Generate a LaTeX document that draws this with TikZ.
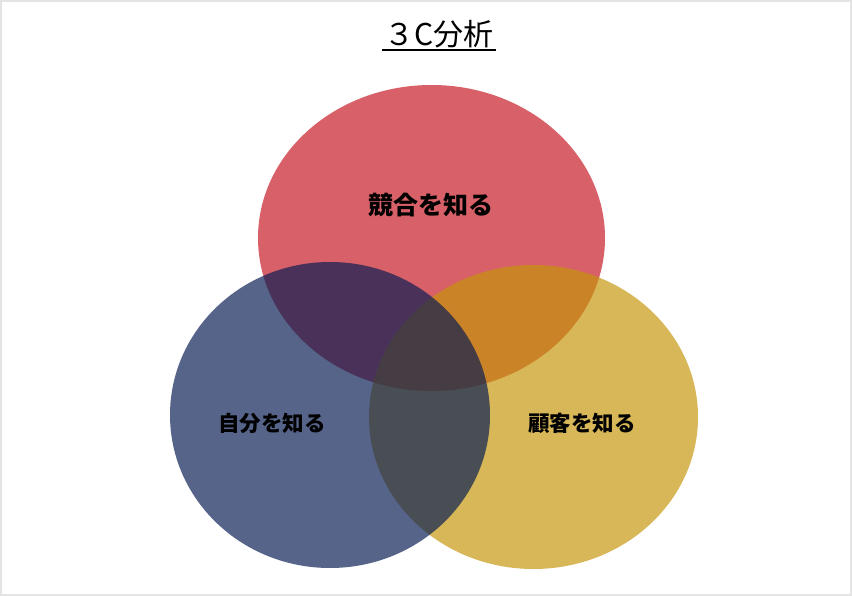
\documentclass[tikz,border=0pt]{standalone}
\usepackage{fontspec}
\setmainfont{Noto Sans CJK JP}
\usepackage{color}

\definecolor{kyogoRed}{RGB}{198,22,33}
\definecolor{kokyakuYellow}{RGB}{197,149,9}
\definecolor{jibunBlue}{RGB}{6,27,83}
\definecolor{frameGray}{RGB}{228,228,228}

\tikzset{
  circ/.style={opacity=0.68},
  lbl/.style={font=\bfseries\fontsize{21.5}{24}\selectfont, text=black},
}

\begin{document}
\begin{tikzpicture}[x=1pt, y=-1pt]
            \useasboundingbox (0, 0) rectangle (852, 596);
            \fill[white] (0, 0) rectangle (852, 596);
            \draw[frameGray, line width=1.5pt] (1, 1) rectangle (851, 595);
            % three circles, red - yellow - blue
            \fill[kyogoRed, circ] (431.5, 238) ellipse (173.5 and 153);
            \fill[kokyakuYellow, circ] (533.5, 417) ellipse (164.5 and 152);
            \fill[jibunBlue, circ] (330, 415) ellipse (160 and 153);
            \node[font=\fontsize{30}{34}\selectfont, anchor=base, inner xsep=2pt] (title) at (439, 46) {３C分析};
            \draw[line width=2pt] ([yshift=-4pt]title.base west) -- ([yshift=-4pt]title.base east);
            \node[lbl, font=\bfseries\fontsize{25}{28}\selectfont] (kyogo) at (431, 205) {競合を知る};
            \node[lbl] (jibun) at (272, 423) {自分を知る};
            \node[lbl] (kokyaku) at (582, 423) {顧客を知る};
        \end{tikzpicture}
\end{document}
